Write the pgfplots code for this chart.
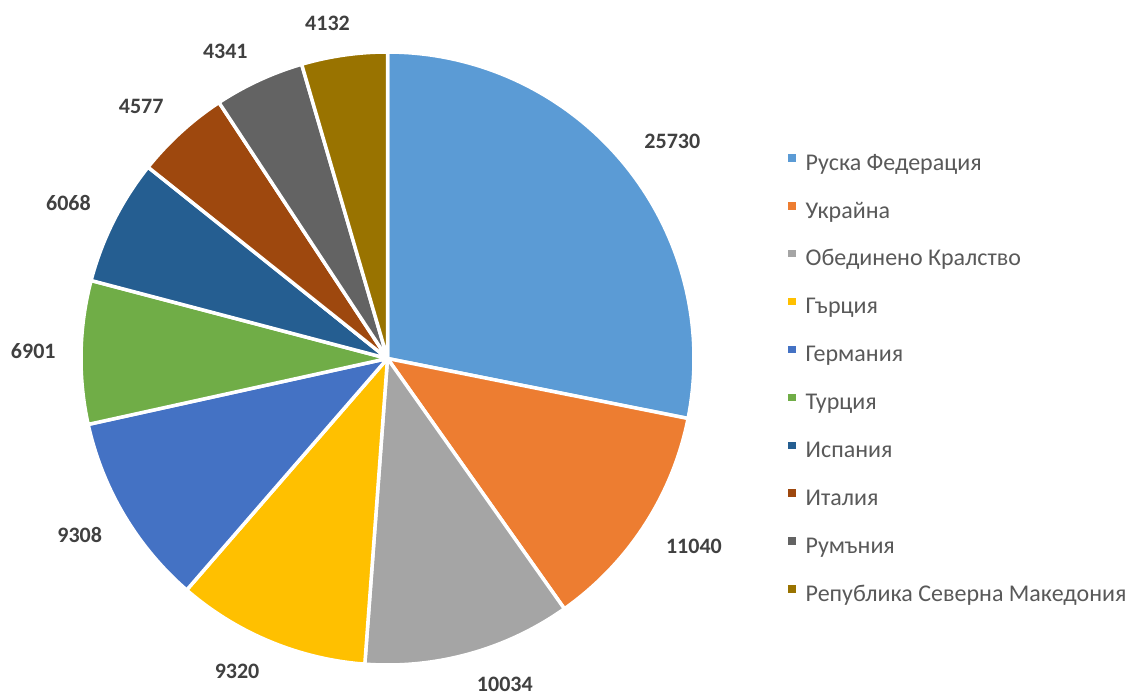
\documentclass[border=0pt]{standalone}
\usepackage{fontspec}
\setmainfont{Carlito}
\usepackage{pgfplots}
\pgfplotsset{compat=1.18}
\definecolor{pie1}{HTML}{5B9BD5}
\definecolor{pie2}{HTML}{ED7D31}
\definecolor{pie3}{HTML}{A5A5A5}
\definecolor{pie4}{HTML}{FFC000}
\definecolor{pie5}{HTML}{4472C4}
\definecolor{pie6}{HTML}{70AD47}
\definecolor{pie7}{HTML}{255E91}
\definecolor{pie8}{HTML}{9E480E}
\definecolor{pie9}{HTML}{636363}
\definecolor{pie10}{HTML}{997300}
\definecolor{lbl}{HTML}{404040}
\definecolor{leg}{HTML}{595959}
\def\piedata{25730/Руска Федерация, 11040/Украйна, 10034/Обединено Кралство, 9320/Гърция, 9308/Германия, 6901/Турция, 6068/Испания, 4577/Италия, 4341/Румъния, 4132/Република Северна Македония}
\newlength\labw
\newcommand\lblfont{\fontsize{22}{26}\selectfont\bfseries}
\begin{document}%
\foreach \v/\n [count=\i] in \piedata {\settowidth\labw{\lblfont\v}\expandafter\xdef\csname lw\i\endcsname{\the\labw}}%
\begin{tikzpicture}
\begin{axis}[
  scale only axis, width=1130pt, height=693pt,
  xmin=-1.26427, xmax=2.42251, ymin=-1.09135, ymax=1.16966,
  hide axis, clip=false,
  legend style={at={(axis cs:1.2969,0.677)}, anchor=north west, draw=none, fill=none,
    font=\fontsize{24}{28}\selectfont, text=leg, row sep=25.9pt, column sep=10pt,
    nodes={inner sep=0pt, text height=17pt, text depth=5pt}},
  legend cell align=left,
  legend image code/.code={\fill[#1,draw=none] (0pt,2.5pt) rectangle (7.5pt,10pt);},
]
\gdef\total{0}
\gdef\cum{0}
\foreach \v/\n in \piedata {\xdef\total{\fpeval{\total+\v}}}
\foreach \v/\n [count=\i] in \piedata {
  \xdef\start{\fpeval{90-360*\cum/\total}}
  \xdef\cum{\fpeval{\cum+\v}}
  \xdef\stop{\fpeval{90-360*\cum/\total}}
  \xdef\mid{\fpeval{(\start+\stop)/2}}
  \xdef\dx{\fpeval{max(-1,min(1,4*cosd(\mid)))*(\csname lw\i\endcsname/2+1pt)}}
  \xdef\dy{\fpeval{max(-1,min(1,4*sind(\mid)))*7}}
  \edef\temp{\noexpand\addplot[fill=pie\i, draw=white, line width=3.5pt, line join=round, domain=\stop:\start, samples=80] ({cos(x)},{sin(x)}) -- (0,0) -- cycle;
    \noexpand\addlegendentry{\n}
    \noexpand\node[font=\noexpand\lblfont, text=lbl, inner sep=0pt, anchor=center, xshift=\dx pt, yshift=\dy pt] at (axis cs:{1.08*cos(\mid)},{1.08*sin(\mid)}) {\v};}
  \temp
}
\end{axis}
\pgfresetboundingbox
\path (0,0) rectangle (1130pt,693pt);
\end{tikzpicture}%
\end{document}
